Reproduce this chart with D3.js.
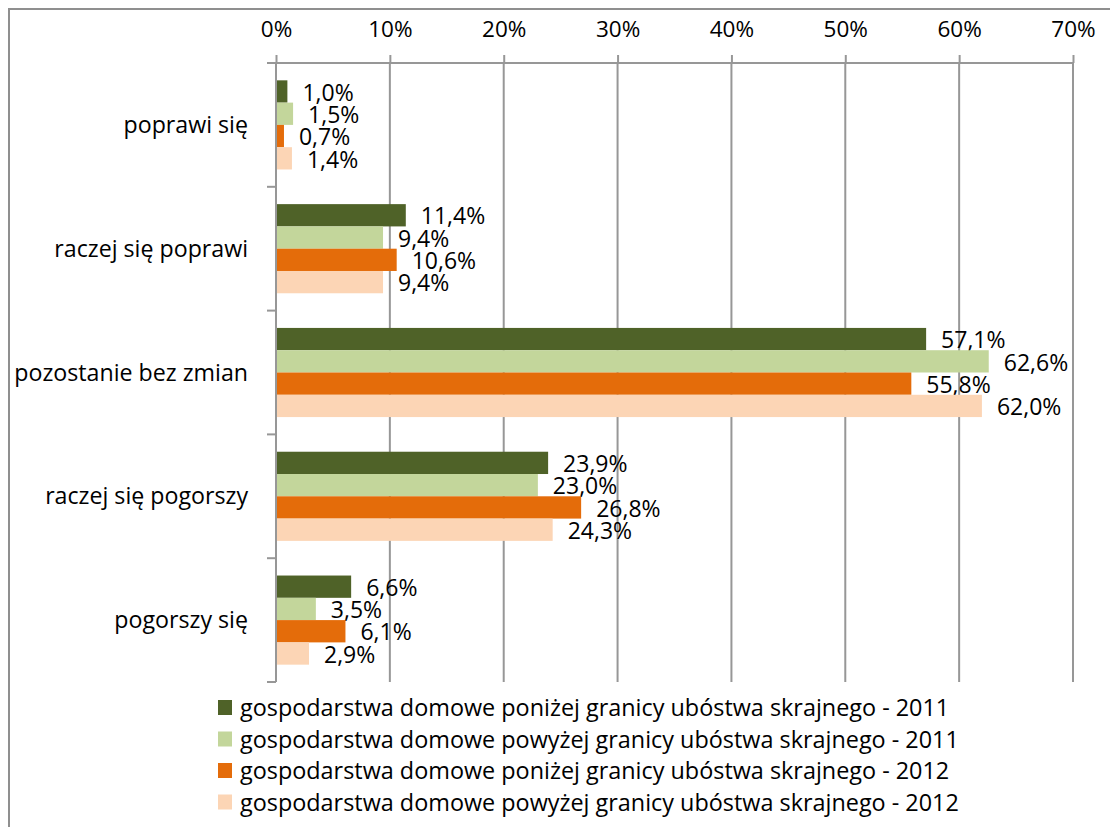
<!DOCTYPE html>
<html>
<head>
<meta charset="utf-8">
<script src="https://cdn.jsdelivr.net/npm/d3@7"></script>
<style>
  body { margin: 0; background: #fff; }
  svg { display: block; font-family: "Open Sans", "Noto Sans", sans-serif; }
</style>
</head>
<body>
<script>
// data
var categories = ["poprawi się", "raczej się poprawi", "pozostanie bez zmian", "raczej się pogorszy", "pogorszy się"];
var seriesNames = [
  "gospodarstwa domowe poniżej granicy ubóstwa skrajnego - 2011",
  "gospodarstwa domowe powyżej granicy ubóstwa skrajnego - 2011",
  "gospodarstwa domowe poniżej granicy ubóstwa skrajnego - 2012",
  "gospodarstwa domowe powyżej granicy ubóstwa skrajnego - 2012"
];
var below2011 = [1.0, 11.4, 57.1, 23.9, 6.6];
var above2011 = [1.5, 9.4, 62.6, 23.0, 3.5];
var below2012 = [0.7, 10.6, 55.8, 26.8, 6.1];
var above2012 = [1.4, 9.4, 62.0, 24.3, 2.9];
var xTicks = [0, 10, 20, 30, 40, 50, 60, 70];
var colors = ["#4f6228", "#c3d69b", "#e46c0a", "#fcd5b5"];

var series = [below2011, above2011, below2012, above2012];

var svg = d3.select("body").append("svg").attr("width", 1110).attr("height", 827),
    margin = {top: 63, left: 276, right: 37, bottom: 145},
    width = 1110 - margin.left - margin.right,
    height = 827 - margin.top - margin.bottom,
    g = svg.append("g").attr("transform", "translate(" + margin.left + "," + margin.top + ")");

var grey = "#979797";

// outer frame (left and top edges only visible)
svg.append("path")
    .attr("d", "M9,827 V9 H1110")
    .attr("fill", "none")
    .attr("stroke", "#8f8f8f")
    .attr("stroke-width", 2);

var x = d3.scaleLinear().domain([0, 70]).range([0, width]);

var y = d3.scaleBand().domain(categories).range([0, height]).paddingInner(0.28).paddingOuter(0.14);

var yInner = d3.scaleBand().domain(d3.range(series.length)).range([0, y.bandwidth()]);

// grid lines
g.append("g")
  .selectAll("line")
  .data(xTicks.slice(1))
  .enter().append("line")
    .attr("x1", function(d) { return x(d); })
    .attr("x2", function(d) { return x(d); })
    .attr("y1", 0)
    .attr("y2", height)
    .attr("stroke", grey)
    .attr("stroke-width", 2);

// top axis
var xAxis = g.append("g")
    .call(d3.axisTop(x).tickValues(xTicks).tickSize(8).tickSizeOuter(0).tickPadding(18)
      .tickFormat(function(d) { return d + "%"; }));
xAxis.select(".domain").attr("stroke", grey).attr("stroke-width", 2).attr("d", "M-9,0H" + width);
xAxis.selectAll(".tick line").attr("stroke", grey).attr("stroke-width", 2);
xAxis.selectAll(".tick text").attr("fill", "#000").style("font-size", "22.5px").style("font-family", "Open Sans");

// left axis: line with ticks on category boundaries
var bounds = categories.map(function(c) { return y(c) - y.step() * y.paddingInner() / 2; });
bounds.push(height);
g.append("line")
    .attr("x1", 0).attr("x2", 0).attr("y1", 0).attr("y2", height)
    .attr("stroke", grey).attr("stroke-width", 2);
g.append("g")
  .selectAll("line")
  .data(bounds)
  .enter().append("line")
    .attr("x1", -9).attr("x2", 0)
    .attr("y1", function(d) { return d; })
    .attr("y2", function(d) { return d; })
    .attr("stroke", grey).attr("stroke-width", 2);

// category labels
g.append("g")
  .selectAll("text")
  .data(categories)
  .enter().append("text")
    .attr("x", -28)
    .attr("y", function(d) { return y(d) + y.bandwidth() / 2; })
    .attr("dy", "0.35em")
    .attr("text-anchor", "end")
    .style("font-size", "23.2px")
    .text(function(d) { return d; });

var fmt = function(v) { return d3.format(".1f")(v).replace(".", ",") + "%"; };

// bars and labels
series.forEach(function(values, si) {
  var sg = g.append("g");
  sg.selectAll("rect")
    .data(values)
    .enter().append("rect")
      .attr("x", x(0) + 1)
      .attr("y", function(d, i) { return y(categories[i]) + yInner(si); })
      .attr("width", function(d) { return x(d) - x(0) - 1; })
      .attr("height", yInner.bandwidth())
      .attr("fill", colors[si]);
  sg.selectAll("text")
    .data(values)
    .enter().append("text")
      .attr("x", function(d) { return x(d) + 15; })
      .attr("y", function(d, i) { return y(categories[i]) + yInner(si) + yInner.bandwidth() / 2; })
      .attr("dy", "0.4em")
      .style("font-size", "23px")
      .text(fmt);
});

// legend
var legend = svg.append("g").attr("transform", "translate(218,700)");
var row = legend.selectAll("g")
    .data(seriesNames)
    .enter().append("g")
    .attr("transform", function(d, i) { return "translate(0," + (i * 31.5) + ")"; });
row.append("rect")
    .attr("width", 14).attr("height", 15)
    .attr("fill", function(d, i) { return colors[i]; });
row.append("text")
    .attr("x", 22)
    .attr("y", 8)
    .attr("dy", "0.36em")
    .style("font-size", "23.4px")
    .text(function(d) { return d; });
</script>
</body>
</html>
